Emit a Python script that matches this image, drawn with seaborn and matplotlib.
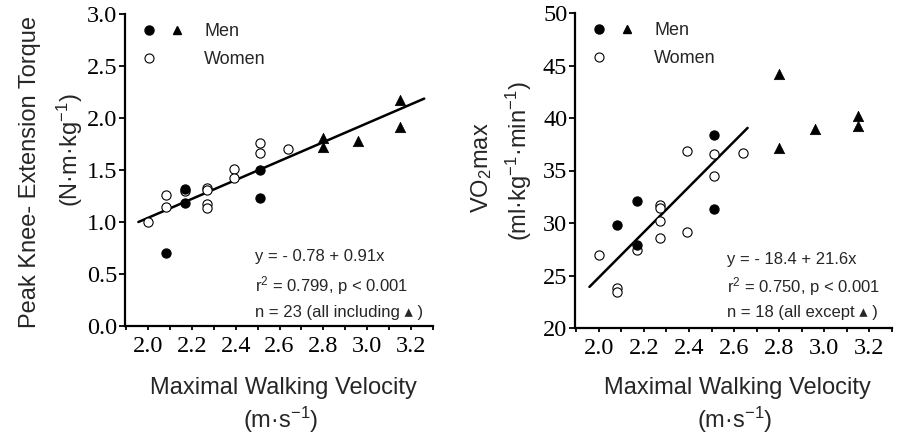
import matplotlib
matplotlib.use("Agg")
import matplotlib.pyplot as plt
import seaborn as sns
from matplotlib.lines import Line2D
from matplotlib.legend_handler import HandlerTuple
from matplotlib.ticker import MultipleLocator

# ---- data ----
# Maximal walking velocity (m/s)
women_x = [2.00, 2.08, 2.08, 2.17, 2.27, 2.27, 2.27, 2.27, 2.39, 2.39, 2.51, 2.51, 2.64]
men_x = [2.08, 2.17, 2.17, 2.51, 2.51]
tri_x = [2.80, 2.80, 2.96, 3.15, 3.15]

# Peak knee-extension torque (N.m/kg)
women_torque = [1.00, 1.26, 1.14, 1.30, 1.33, 1.31, 1.17, 1.13, 1.51, 1.42, 1.76, 1.66, 1.70]
men_torque = [0.70, 1.32, 1.18, 1.50, 1.23]
tri_torque = [1.81, 1.72, 1.78, 2.17, 1.91]

# VO2max (ml/kg/min)
women_vo2 = [27.0, 23.8, 23.4, 27.4, 31.7, 31.4, 30.2, 28.6, 29.1, 36.9, 34.5, 36.6, 36.7]
men_vo2 = [29.8, 32.1, 27.9, 31.3, 38.4]
tri_vo2 = [44.2, 37.1, 38.95, 40.15, 39.27]

# regression fits: intercept, slope, x-range
torque_fit = (-0.78, 0.91, [1.956, 3.26])
vo2_fit = (-18.4, 21.6, [1.959, 2.66])

torque_text = ["y = - 0.78 + 0.91x", "r$^{2}$ = 0.799, p < 0.001", "n = 23 (all including \u25b4 )"]
vo2_text = ["y = - 18.4 + 21.6x", "r$^{2}$ = 0.750, p < 0.001", "n = 18 (all except \u25b4 )"]

SANS = ["Liberation Sans", "DejaVu Sans"]
SERIF = "Liberation Serif"

sns.set_style("ticks")
plt.rcParams["font.family"] = SANS
plt.rcParams["mathtext.default"] = "regular"

W, H = 901, 441
fig = plt.figure(figsize=(W / 100, H / 100), dpi=100)
ax1 = fig.add_axes([125 / W, 1 - 326 / H, 308 / W, 312 / H])
ax2 = fig.add_axes([575 / W, 1 - 328 / H, 317 / W, 315 / H])


def draw_panel(ax, w_y, m_y, t_y, fit, text, ylim, yticks, text_x, text_y, ax_px):
    sns.scatterplot(x=women_x, y=w_y, ax=ax, marker="o", s=44,
                    facecolor="white", edgecolor="black", linewidth=0.8, zorder=3)
    sns.scatterplot(x=men_x, y=m_y, ax=ax, marker="o", s=44,
                    color="black", edgecolor="black", linewidth=0.8, zorder=4)
    sns.scatterplot(x=tri_x, y=t_y, ax=ax, marker="^", s=56,
                    color="black", edgecolor="black", linewidth=0.5, zorder=4)
    a, b, xr = fit
    sns.lineplot(x=xr, y=[a + b * v for v in xr], ax=ax, color="black", lw=1.8, zorder=2)

    ax.set_xlim(1.895, 3.3)
    ax.set_ylim(*ylim)
    ax.set_xticks([2.0, 2.2, 2.4, 2.6, 2.8, 3.0, 3.2])
    ax.set_xticklabels(["2.0", "2.2", "2.4", "2.6", "2.8", "3.0", "3.2"])
    ax.xaxis.set_minor_locator(MultipleLocator(0.1))
    ax.set_yticks(yticks[0])
    ax.set_yticklabels(yticks[1])
    sns.despine(ax=ax)
    for s in ("left", "bottom"):
        ax.spines[s].set_linewidth(1.6)
        ax.spines[s].set_color("black")
    ax.tick_params(axis="both", which="both", direction="out", width=1.3, color="black",
                   labelsize=17.5, labelfontfamily=SERIF, labelcolor="black")
    ax.tick_params(axis="y", length=4, pad=1.5)
    ax.tick_params(axis="x", which="both", length=3, pad=4)

    for t, yy in zip(text, text_y):
        ax.text(text_x, yy, t, fontsize=12, va="center", ha="left", family=SANS)

    men_h = (Line2D([], [], marker="o", ls="none", color="black", markersize=6.5),
             Line2D([], [], marker="^", ls="none", color="black", markersize=6))
    women_h = (Line2D([], [], marker="o", ls="none", markerfacecolor="white",
                      markeredgecolor="black", markeredgewidth=0.8, markersize=6.5),
               Line2D([], [], ls="none"))
    ax.legend([men_h, women_h], ["Men", "Women"], loc="upper left",
              bbox_to_anchor=(13.5 / ax_px[0], 1 - 8 / ax_px[1]), frameon=False, fontsize=13,
              handler_map={tuple: HandlerTuple(ndivide=None, pad=0.5)},
              handlelength=2.6, handletextpad=1.0, labelspacing=0.62,
              borderaxespad=0.0, borderpad=0.05)


draw_panel(ax1, women_torque, men_torque, tri_torque, torque_fit, torque_text,
           (0.0, 3.0), ([0, 0.5, 1.0, 1.5, 2.0, 2.5, 3.0],
                        ["0.0", "0.5", "1.0", "1.5", "2.0", "2.5", "3.0"]),
           2.49, [0.67, 0.39, 0.125], (308, 312))
draw_panel(ax2, women_vo2, men_vo2, tri_vo2, vo2_fit, vo2_text,
           (20, 50), ([20, 25, 30, 35, 40, 45, 50],
                      ["20", "25", "30", "35", "40", "45", "50"]),
           2.57, [26.5, 23.96, 21.46], (317, 315))

lab = dict(fontsize=17, ha="center", va="center", family=SANS)
fig.text(30 / W, 1 - 172 / H, "Peak Knee- Extension Torque", rotation=90, **lab)
fig.text(70 / W, 1 - 150 / H, "(N\u00b7m\u00b7kg$^{-1}$)", rotation=90, **lab)
fig.text(482 / W, 1 - 168 / H, "VO$_{2}$max", rotation=90, **lab)
fig.text(519 / W, 1 - 161 / H, "(ml\u00b7kg$^{-1}$\u00b7min$^{-1}$)", rotation=90, **lab)
for cx in (283, 737):
    fig.text(cx / W, 1 - 388 / H, "Maximal Walking Velocity", **lab)
    fig.text((cx - 2) / W, 1 - 420 / H, "(m\u00b7s$^{-1}$)", **lab)

fig.savefig("out.png", dpi=100)
